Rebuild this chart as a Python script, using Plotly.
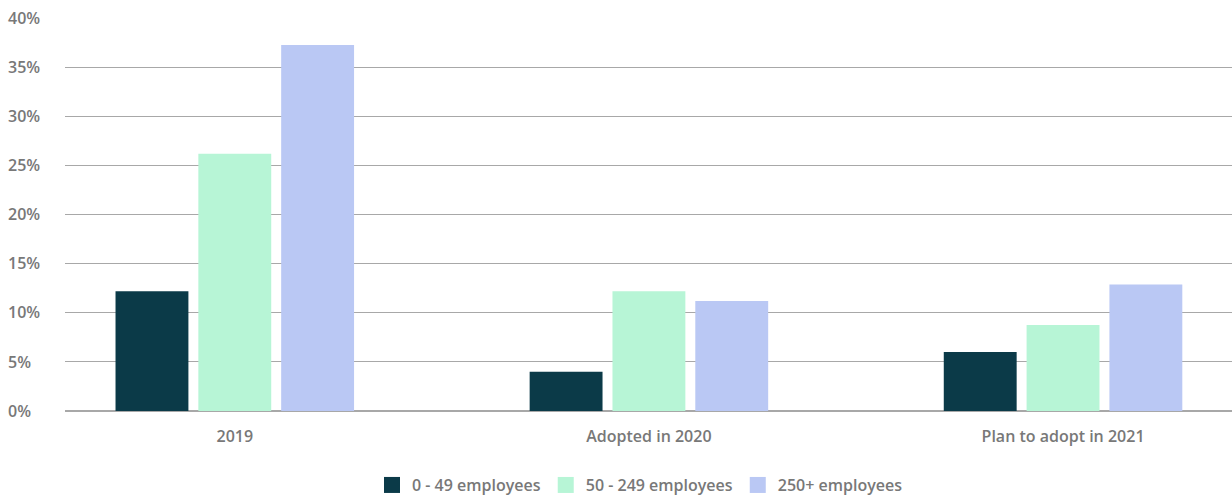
import plotly.graph_objects as go

categories = ["2019", "Adopted in 2020", "Plan to adopt in 2021"]
series_names = ["0 - 49 employees", "50 - 249 employees", "250+ employees"]
small = [12.2, 4.0, 6.0]
medium = [26.2, 12.2, 8.75]
large = [37.3, 11.2, 12.9]
colors = ["#0b3a48", "#b7f5d6", "#bac8f4"]
y_ticks = [0, 5, 10, 15, 20, 25, 30, 35, 40]
y_ticklabels = [f"{v}%" for v in y_ticks]

font_family = "Open Sans"
grey = "#787878"

fig = go.Figure()
for name, vals, col in zip(series_names, [small, medium, large], colors):
    fig.add_trace(go.Bar(x=categories, y=vals, name=name, marker=dict(color=col, line=dict(width=0)),
                         showlegend=False))
for name, col in zip(series_names, colors):
    fig.add_trace(go.Scatter(x=[None], y=[None], mode="markers", name=name,
                             marker=dict(symbol="square", size=20, color=col), showlegend=True))

fig.update_layout(
    width=1232, height=498,
    margin=dict(l=0, r=0, t=18, b=87, autoexpand=False),
    paper_bgcolor="white", plot_bgcolor="white",
    barmode="group", bargap=0.4, bargroupgap=0.12,
    font=dict(family=font_family, size=13, color=grey, weight=600),
    legend=dict(orientation="h", x=640 / 1232, xanchor="center", yref="container", y=0.026,
                yanchor="middle", font=dict(size=16, color=grey, weight=600), itemsizing="trace",
                traceorder="normal"),
    xaxis=dict(type="category", domain=[65 / 1232, 1], range=[-0.41, 2.408], showgrid=False,
               showline=False, zeroline=False, ticks="",
               tickfont=dict(size=16, color=grey, weight=600), ticklabelstandoff=14),
    yaxis=dict(range=[0, 40.04], tickvals=y_ticks, ticktext=y_ticklabels, showgrid=True,
               anchor="free", position=4 / 1232, ticklabelposition="inside",
               ticklabeloverflow="allow",
               gridcolor="#a8a8a8", gridwidth=1, zeroline=True, zerolinecolor="#a8a8a8",
               zerolinewidth=1.5, showline=False, ticks="",
               tickfont=dict(size=16, color=grey, weight=600)),
)

fig.write_html("out.html")
